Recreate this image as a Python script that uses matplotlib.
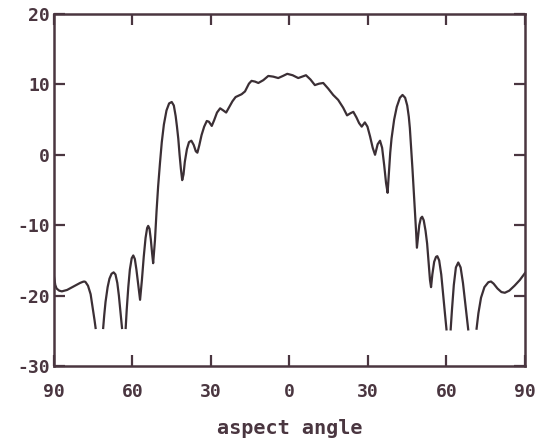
import numpy as np
import matplotlib
matplotlib.use("Agg")
import matplotlib.pyplot as plt

plt.rcParams["axes.unicode_minus"] = False

# values; NaN = curve not drawn (deep nulls)
angle = [
    -90, -89.5, -89, -88, -87, -86, -85, -84, -83, -82, -81, -80, -79, -78.5, -78,
    -77, -76, -75.5, -75, -74.5, -74.1, -73,
    -71.2, -70.8, -70.3, -69.5, -68.8, -68, -67.2, -66.5, -65.8, -65.2, -64.6, -64.0, -63.3,
    -62.6, -62.2, -61.6, -61.0, -60.3, -59.7, -59.1, -58.5, -57.8, -57.1,
    -56.4, -55.7, -55.0, -54.4, -54.0, -53.5, -53.0, -52.5, -52.1,
    -51.4, -50.8, -50.2, -49.5, -48.8, -48.0, -47.0, -46.0, -45.0, -44.2, -43.5, -43.0,
    -42.5, -42.0, -41.5, -41.0, -40.5, -40.0, -39.2, -38.4, -37.5, -36.6, -35.8, -35.2,
    -34.5, -33.6, -32.6, -31.6, -30.8, -29.7, -28.8, -27.7, -26.5, -25.3, -24.2, -23.0,
    -21.8, -20.6, -19.4, -18.3, -17.0, -15.5, -14.5, -13.2, -11.9, -10.0, -8.1, -6.2,
    -4.3, -2.5, -0.85, 1.2, 3.35, 4.8, 6.3, 8.0, 9.7, 11.3, 12.9, 14.8, 16.7, 18.6,
    20.5, 22.0, 23.3, 24.4, 25.6, 26.6, 27.6, 28.8, 29.8, 30.8, 31.8, 32.7, 33.7, 34.6,
    35.4, 36.2, 36.9, 37.5, 38.0, 38.5, 39.0, 40.0, 41.0, 42.2, 43.2, 44.2, 45.0, 45.6,
    46.0, 46.5, 47.0, 47.5, 48.0, 48.4, 48.7, 49.1, 49.6, 50.2, 50.7, 51.3, 52.0, 52.6, 53.2,
    53.7, 54.1, 54.6, 55.3, 56.0, 56.5, 57.2, 58.0, 58.7, 59.4, 60.0, 60.8,
    61.6, 62.1, 62.8, 63.6, 64.5, 65.4, 66.3, 67.2, 68.3, 70.0,
    71.5, 72.2, 73.2, 74.5, 76.0, 77.0, 78.0, 79.5, 81.0, 82.3, 84.0, 86.0, 88.0, 90.0,
]
rcs_db = [
    -17.3, -18.5, -19.0, -19.3, -19.4, -19.3, -19.2, -19.0, -18.8, -18.6, -18.4, -18.2, -18.05, -18.0, -18.05,
    -18.6, -19.8, -21.0, -22.3, -23.5, -24.6, np.nan,
    -24.6, -22.8, -20.9, -18.8, -17.6, -16.9, -16.7, -17.0, -18.2, -20.0, -22.3, -24.6, np.nan,
    -24.6, -22.0, -18.8, -16.3, -14.7, -14.3, -14.8, -16.3, -18.5, -20.6,
    -17.8, -14.5, -11.8, -10.4, -10.1, -10.5, -12.0, -14.0, -15.4,
    -12.1, -8.0, -4.5, -1.2, 1.8, 4.3, 6.3, 7.3, 7.5, 7.0, 5.5, 4.0,
    2.3, 0.0, -2.0, -3.6, -2.8, -1.0, 0.8, 1.8, 2.0, 1.4, 0.5, 0.3,
    1.3, 2.8, 4.0, 4.8, 4.7, 4.1, 4.9, 6.0, 6.6, 6.3, 6.0, 6.8,
    7.6, 8.2, 8.4, 8.6, 9.0, 10.1, 10.5, 10.4, 10.2, 10.6, 11.2, 11.1,
    10.9, 11.2, 11.5, 11.3, 10.9, 11.1, 11.3, 10.7, 9.9, 10.1, 10.2, 9.4, 8.5, 7.8,
    6.7, 5.6, 5.9, 6.1, 5.3, 4.5, 4.0, 4.6, 4.0, 2.6, 1.0, 0.0, 1.5, 2.0,
    1.0, -1.5, -4.0, -5.4, -2.5, 0.3, 2.3, 5.0, 6.8, 8.1, 8.5, 8.1, 7.0, 5.4,
    3.8, 1.0, -2.0, -5.2, -8.4, -11.0, -13.2, -11.8, -10.0, -9.0, -8.8, -9.3, -10.8, -12.6, -15.5,
    -17.8, -18.8, -17.0, -15.2, -14.5, -14.4, -15.0, -17.0, -19.8, -22.5, -24.8, np.nan,
    -24.8, -22.0, -18.5, -16.0, -15.3, -16.0, -18.2, -21.2, -24.8, np.nan,
    -24.7, -22.5, -20.3, -18.8, -18.1, -18.0, -18.3, -19.0, -19.5, -19.6, -19.3, -18.6, -17.8, -16.8,
]

xticks = [-90, -60, -30, 0, 30, 60, 90]
xtick_labels = ["90", "60", "30", "0", "30", "60", "90"]
yticks = [-30, -20, -10, 0, 10, 20]

ink = "#3b2f35"
frame = "#4a3640"

fig = plt.figure(figsize=(5.42, 4.44), dpi=100)
ax = fig.add_axes([0.0996, 0.1757, 0.869, 0.7928])

ax.plot(angle, rcs_db, color=ink, lw=1.6)

ax.set_xlim(-90, 90)
ax.set_ylim(-30, 20)
ax.set_xticks(xticks)
ax.set_xticklabels(xtick_labels)
ax.set_yticks(yticks)

for lab in ax.get_xticklabels() + ax.get_yticklabels():
    lab.set_fontfamily("DejaVu Sans Mono")
    lab.set_fontweight("bold")
    lab.set_fontsize(13)
    lab.set_color(frame)

ax.tick_params(axis="both", direction="in", length=8, width=1.6, color=frame,
               top=True, right=True)
ax.tick_params(axis="x", pad=12)
ax.tick_params(axis="y", pad=3)
for s in ax.spines.values():
    s.set_color(frame)
    s.set_linewidth(1.8)

ax.set_xlabel("aspect angle", color=frame, labelpad=13,
              family="DejaVu Sans Mono", weight="bold", size=14.5)

fig.savefig("out.png", dpi=100)
